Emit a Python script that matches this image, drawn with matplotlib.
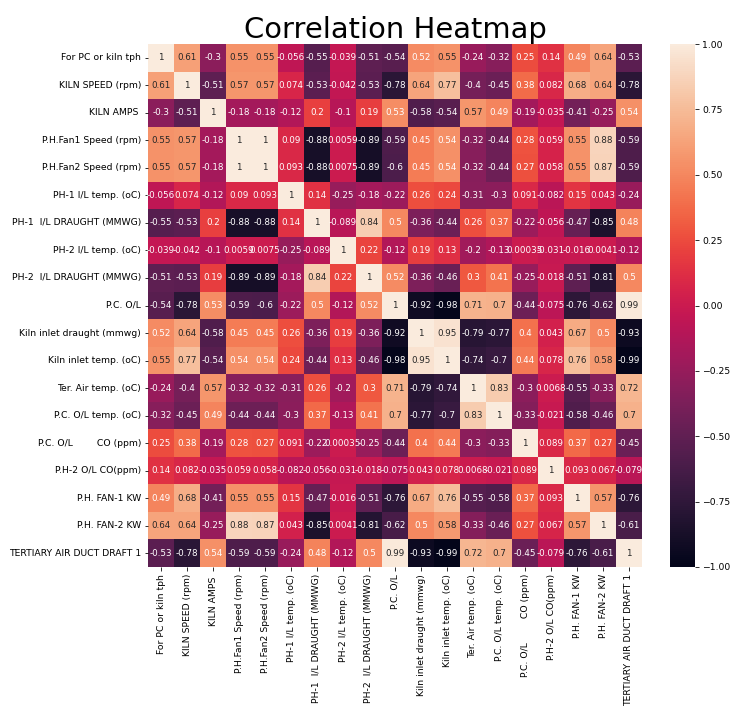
import numpy as np
import pandas as pd
import matplotlib
matplotlib.use("Agg")
import matplotlib.pyplot as plt
import seaborn as sns

labels = ["For PC or kiln tph", "KILN SPEED (rpm)", "KILN AMPS ", "P.H.Fan1 Speed (rpm)",
          "P.H.Fan2 Speed (rpm)", "PH-1 I/L temp. (oC)", "PH-1  I/L DRAUGHT (MMWG)",
          "PH-2 I/L temp. (oC)", "PH-2  I/L DRAUGHT (MMWG)", "P.C. O/L",
          "Kiln inlet draught (mmwg)", "Kiln inlet temp. (oC)", "Ter. Air temp. (oC)",
          "P.C. O/L temp. (oC)", "P.C. O/L        CO (ppm)", "P.H-2 O/L CO(ppm)",
          "P.H. FAN-1 KW", "P.H. FAN-2 KW", "TERTIARY AIR DUCT DRAFT 1"]

row0 = [1, 0.61, -0.3, 0.55, 0.55, -0.056, -0.55, -0.039, -0.51, -0.54, 0.52, 0.55, -0.24, -0.32, 0.25, 0.14, 0.49, 0.64, -0.53]
row1 = [0.61, 1, -0.51, 0.57, 0.57, 0.074, -0.53, -0.042, -0.53, -0.78, 0.64, 0.77, -0.4, -0.45, 0.38, 0.082, 0.68, 0.64, -0.78]
row2 = [-0.3, -0.51, 1, -0.18, -0.18, -0.12, 0.2, -0.1, 0.19, 0.53, -0.58, -0.54, 0.57, 0.49, -0.19, -0.035, -0.41, -0.25, 0.54]
row3 = [0.55, 0.57, -0.18, 1, 1, 0.09, -0.88, 0.0059, -0.89, -0.59, 0.45, 0.54, -0.32, -0.44, 0.28, 0.059, 0.55, 0.88, -0.59]
row4 = [0.55, 0.57, -0.18, 1, 1, 0.093, -0.88, 0.0075, -0.89, -0.6, 0.45, 0.54, -0.32, -0.44, 0.27, 0.058, 0.55, 0.87, -0.59]
row5 = [-0.056, 0.074, -0.12, 0.09, 0.093, 1, 0.14, -0.25, -0.18, -0.22, 0.26, 0.24, -0.31, -0.3, 0.091, -0.082, 0.15, 0.043, -0.24]
row6 = [-0.55, -0.53, 0.2, -0.88, -0.88, 0.14, 1, -0.089, 0.84, 0.5, -0.36, -0.44, 0.26, 0.37, -0.22, -0.056, -0.47, -0.85, 0.48]
row7 = [-0.039, -0.042, -0.1, 0.0059, 0.0075, -0.25, -0.089, 1, 0.22, -0.12, 0.19, 0.13, -0.2, -0.13, 0.00035, -0.031, -0.016, 0.0041, -0.12]
row8 = [-0.51, -0.53, 0.19, -0.89, -0.89, -0.18, 0.84, 0.22, 1, 0.52, -0.36, -0.46, 0.3, 0.41, -0.25, -0.018, -0.51, -0.81, 0.5]
row9 = [-0.54, -0.78, 0.53, -0.59, -0.6, -0.22, 0.5, -0.12, 0.52, 1, -0.92, -0.98, 0.71, 0.7, -0.44, -0.075, -0.76, -0.62, 0.99]
row10 = [0.52, 0.64, -0.58, 0.45, 0.45, 0.26, -0.36, 0.19, -0.36, -0.92, 1, 0.95, -0.79, -0.77, 0.4, 0.043, 0.67, 0.5, -0.93]
row11 = [0.55, 0.77, -0.54, 0.54, 0.54, 0.24, -0.44, 0.13, -0.46, -0.98, 0.95, 1, -0.74, -0.7, 0.44, 0.078, 0.76, 0.58, -0.99]
row12 = [-0.24, -0.4, 0.57, -0.32, -0.32, -0.31, 0.26, -0.2, 0.3, 0.71, -0.79, -0.74, 1, 0.83, -0.3, 0.0068, -0.55, -0.33, 0.72]
row13 = [-0.32, -0.45, 0.49, -0.44, -0.44, -0.3, 0.37, -0.13, 0.41, 0.7, -0.77, -0.7, 0.83, 1, -0.33, -0.021, -0.58, -0.46, 0.7]
row14 = [0.25, 0.38, -0.19, 0.28, 0.27, 0.091, -0.22, 0.00035, -0.25, -0.44, 0.4, 0.44, -0.3, -0.33, 1, 0.089, 0.37, 0.27, -0.45]
row15 = [0.14, 0.082, -0.035, 0.059, 0.058, -0.082, -0.056, -0.031, -0.018, -0.075, 0.043, 0.078, 0.0068, -0.021, 0.089, 1, 0.093, 0.067, -0.079]
row16 = [0.49, 0.68, -0.41, 0.55, 0.55, 0.15, -0.47, -0.016, -0.51, -0.76, 0.67, 0.76, -0.55, -0.58, 0.37, 0.093, 1, 0.57, -0.76]
row17 = [0.64, 0.64, -0.25, 0.88, 0.87, 0.043, -0.85, 0.0041, -0.81, -0.62, 0.5, 0.58, -0.33, -0.46, 0.27, 0.067, 0.57, 1, -0.61]
row18 = [-0.53, -0.78, 0.54, -0.59, -0.59, -0.24, 0.48, -0.12, 0.5, 0.99, -0.93, -0.99, 0.72, 0.7, -0.45, -0.079, -0.76, -0.61, 1]

rows = [row0, row1, row2, row3, row4, row5, row6, row7, row8, row9,
        row10, row11, row12, row13, row14, row15, row16, row17, row18]
corr = pd.DataFrame(np.array(rows), index=labels, columns=labels)

plt.rcParams['font.family'] = ['DejaVu Sans']
fig = plt.figure(figsize=(742 / 72, 711 / 72), dpi=72)
ax = fig.add_axes([148 / 742, 144 / 711, 494 / 742, 523 / 711])
cax = fig.add_axes([670 / 742, 144 / 711, 25 / 742, 523 / 711])
sns.heatmap(corr, annot=True, vmin=-1, vmax=1, ax=ax, cbar_ax=cax,
            annot_kws={"fontsize": 8.8})
ax.set_title("Correlation Heatmap", fontsize=29, pad=6)
ax.tick_params(labelsize=9.2)
cax.tick_params(labelsize=9.2)
fig.savefig("out.png", dpi=72)
